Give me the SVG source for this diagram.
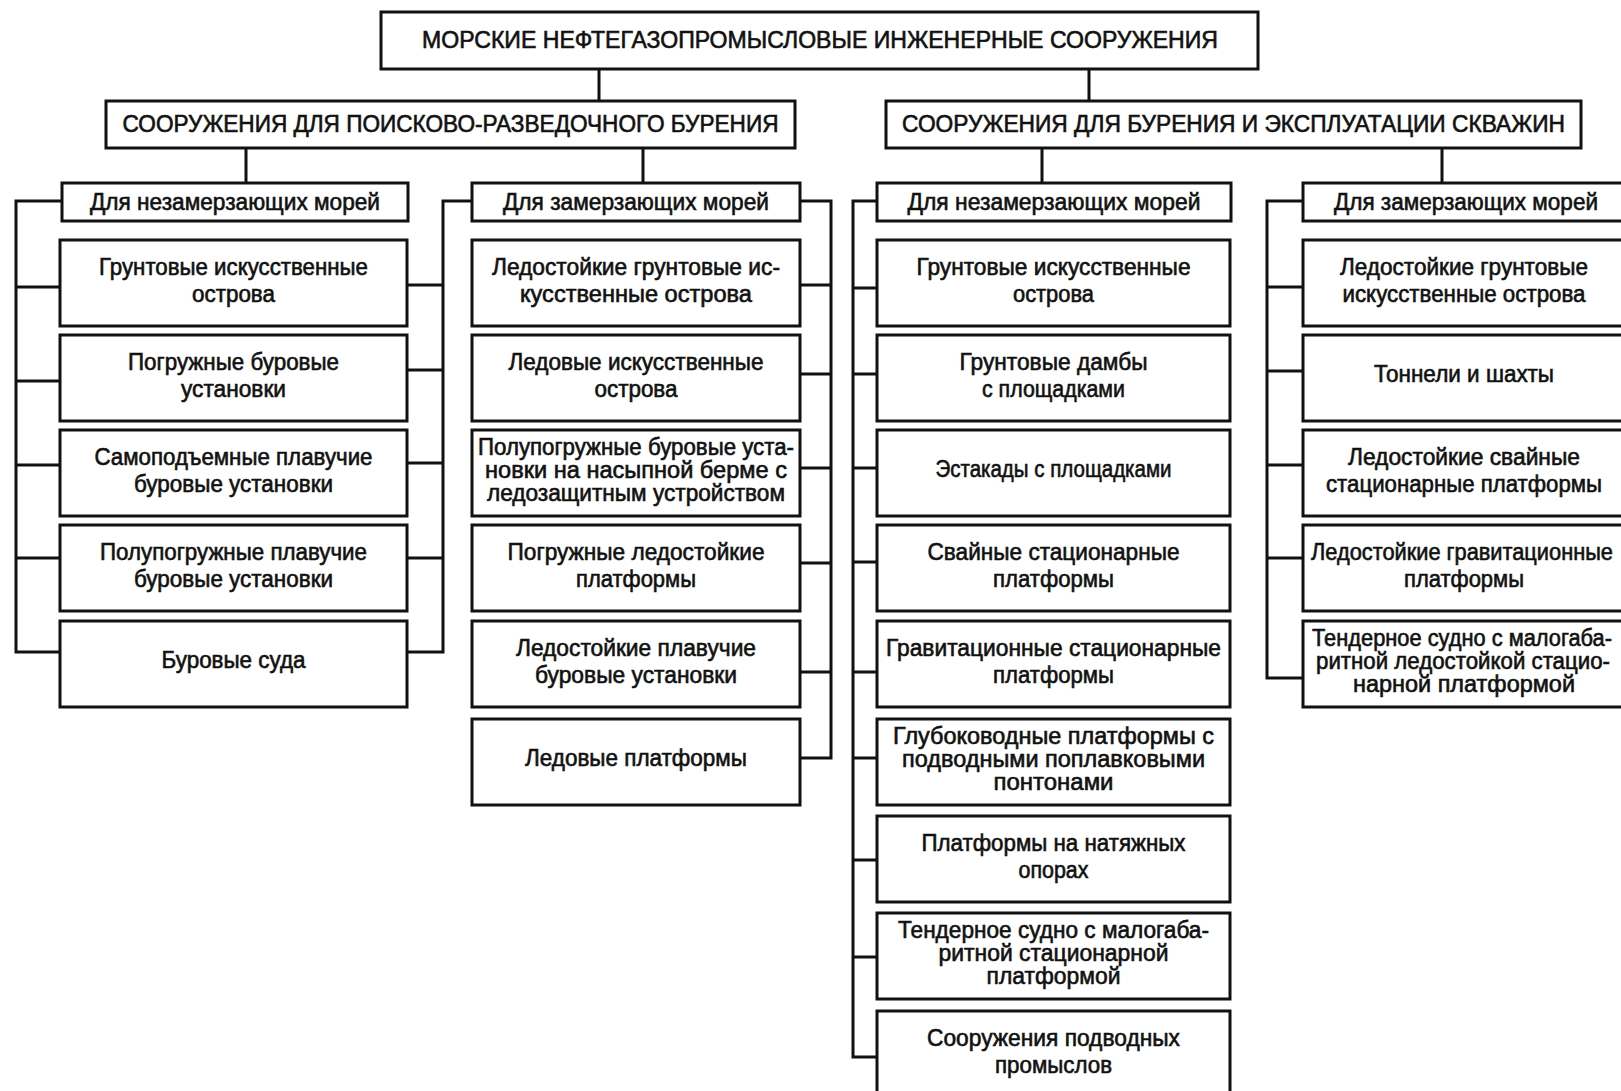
<svg xmlns="http://www.w3.org/2000/svg" width="1621" height="1091" viewBox="0 0 1621 1091">
<style>
.box{fill:#fff;stroke:#111;stroke-width:3}
.t{font-family:"Liberation Sans Narrow","Liberation Sans",Arial,sans-serif;font-size:23px;fill:#111;stroke:#111;stroke-width:0.6;text-anchor:middle}
.conn path{fill:none;stroke:#111;stroke-width:3}
</style>
<rect width="1621" height="1091" fill="#fff"/>
<g class="conn">
<path d="M599 69V101M1089 69V101"/>
<path d="M246 148V183M643 148V183M1042 148V183M1442 148V183"/>
<path d="M62 201H16V652H60M16 287H60M16 381H60M16 465H60M16 558H60"/>
<path d="M472 201H443V652H407M443 285H407M443 370H407M443 463H407M443 558H407"/>
<path d="M800 201H831V758H800M831 285H800M831 374H800M831 468H800M831 563H800M831 672H800"/>
<path d="M877 201H853V1057H877M853 288H877M853 374H877M853 468H877M853 562H877M853 672H877M853 758H877M853 860H877M853 957H877"/>
<path d="M1303 201H1267V678H1303M1267 287H1303M1267 371H1303M1267 465H1303M1267 558H1303"/>
</g>
<g id="root"><rect class="box" x="381" y="12" width="877" height="57"/><text class="t" x="820" y="48" textLength="796" lengthAdjust="spacingAndGlyphs">МОРСКИЕ НЕФТЕГАЗОПРОМЫСЛОВЫЕ ИНЖЕНЕРНЫЕ СООРУЖЕНИЯ</text></g>
<g id="l2-left"><rect class="box" x="106" y="101" width="689" height="47"/><text class="t" x="450.5" y="132" textLength="656" lengthAdjust="spacingAndGlyphs">СООРУЖЕНИЯ ДЛЯ ПОИСКОВО-РАЗВЕДОЧНОГО БУРЕНИЯ</text></g>
<g id="l2-right"><rect class="box" x="886" y="101" width="695" height="47"/><text class="t" x="1233.5" y="132" textLength="663" lengthAdjust="spacingAndGlyphs">СООРУЖЕНИЯ ДЛЯ БУРЕНИЯ И ЭКСПЛУАТАЦИИ СКВАЖИН</text></g>
<g id="h-la"><rect class="box" x="62" y="183" width="346" height="38"/><text class="t" x="235" y="210" textLength="290" lengthAdjust="spacingAndGlyphs">Для незамерзающих морей</text></g>
<g id="h-lb"><rect class="box" x="472" y="183" width="328" height="38"/><text class="t" x="636" y="210" textLength="266" lengthAdjust="spacingAndGlyphs">Для замерзающих морей</text></g>
<g id="h-ra"><rect class="box" x="877" y="183" width="354" height="38"/><text class="t" x="1054" y="210" textLength="293" lengthAdjust="spacingAndGlyphs">Для незамерзающих морей</text></g>
<g id="h-rb"><rect class="box" x="1303" y="183" width="340" height="38"/><text class="t" x="1466" y="210" textLength="264" lengthAdjust="spacingAndGlyphs">Для замерзающих морей</text></g>

<g id="la1"><rect class="box" x="60" y="240" width="347" height="86"/><text class="t" x="233.5" y="275" textLength="269" lengthAdjust="spacingAndGlyphs">Грунтовые искусственные</text><text class="t" x="233.5" y="302" textLength="83" lengthAdjust="spacingAndGlyphs">острова</text></g>
<g id="la2"><rect class="box" x="60" y="335" width="347" height="86"/><text class="t" x="233.5" y="370" textLength="211" lengthAdjust="spacingAndGlyphs">Погружные буровые</text><text class="t" x="233.5" y="397" textLength="105" lengthAdjust="spacingAndGlyphs">установки</text></g>
<g id="la3"><rect class="box" x="60" y="430" width="347" height="86"/><text class="t" x="233.5" y="465" textLength="278" lengthAdjust="spacingAndGlyphs">Самоподъемные плавучие</text><text class="t" x="233.5" y="492" textLength="199" lengthAdjust="spacingAndGlyphs">буровые установки</text></g>
<g id="la4"><rect class="box" x="60" y="525" width="347" height="86"/><text class="t" x="233.5" y="560" textLength="267" lengthAdjust="spacingAndGlyphs">Полупогружные плавучие</text><text class="t" x="233.5" y="587" textLength="199" lengthAdjust="spacingAndGlyphs">буровые установки</text></g>
<g id="la5"><rect class="box" x="60" y="621" width="347" height="86"/><text class="t" x="233.5" y="668" textLength="144" lengthAdjust="spacingAndGlyphs">Буровые суда</text></g>

<g id="lb1"><rect class="box" x="472" y="240" width="328" height="86"/><text class="t" x="636" y="275" textLength="288" lengthAdjust="spacingAndGlyphs">Ледостойкие грунтовые ис-</text><text class="t" x="636" y="302" textLength="232" lengthAdjust="spacingAndGlyphs">кусственные острова</text></g>
<g id="lb2"><rect class="box" x="472" y="335" width="328" height="86"/><text class="t" x="636" y="370" textLength="255" lengthAdjust="spacingAndGlyphs">Ледовые искусственные</text><text class="t" x="636" y="397" textLength="83" lengthAdjust="spacingAndGlyphs">острова</text></g>
<g id="lb3"><rect class="box" x="472" y="430" width="328" height="86"/><text class="t" x="636" y="455" textLength="316" lengthAdjust="spacingAndGlyphs">Полупогружные буровые уста-</text><text class="t" x="636" y="478" textLength="302" lengthAdjust="spacingAndGlyphs">новки на насыпной берме с</text><text class="t" x="636" y="501" textLength="298" lengthAdjust="spacingAndGlyphs">ледозащитным устройством</text></g>
<g id="lb4"><rect class="box" x="472" y="525" width="328" height="86"/><text class="t" x="636" y="560" textLength="257" lengthAdjust="spacingAndGlyphs">Погружные ледостойкие</text><text class="t" x="636" y="587" textLength="120" lengthAdjust="spacingAndGlyphs">платформы</text></g>
<g id="lb5"><rect class="box" x="472" y="621" width="328" height="86"/><text class="t" x="636" y="656" textLength="240" lengthAdjust="spacingAndGlyphs">Ледостойкие плавучие</text><text class="t" x="636" y="683" textLength="202" lengthAdjust="spacingAndGlyphs">буровые установки</text></g>
<g id="lb6"><rect class="box" x="472" y="719" width="328" height="86"/><text class="t" x="636" y="766" textLength="222" lengthAdjust="spacingAndGlyphs">Ледовые платформы</text></g>

<g id="ra1"><rect class="box" x="877" y="240" width="353" height="86"/><text class="t" x="1053.5" y="275" textLength="274" lengthAdjust="spacingAndGlyphs">Грунтовые искусственные</text><text class="t" x="1053.5" y="302" textLength="81" lengthAdjust="spacingAndGlyphs">острова</text></g>
<g id="ra2"><rect class="box" x="877" y="335" width="353" height="86"/><text class="t" x="1053.5" y="370" textLength="188" lengthAdjust="spacingAndGlyphs">Грунтовые дамбы</text><text class="t" x="1053.5" y="397" textLength="143" lengthAdjust="spacingAndGlyphs">с площадками</text></g>
<g id="ra3"><rect class="box" x="877" y="430" width="353" height="86"/><text class="t" x="1053.5" y="477" textLength="236" lengthAdjust="spacingAndGlyphs">Эстакады с площадками</text></g>
<g id="ra4"><rect class="box" x="877" y="525" width="353" height="86"/><text class="t" x="1053.5" y="560" textLength="252" lengthAdjust="spacingAndGlyphs">Свайные стационарные</text><text class="t" x="1053.5" y="587" textLength="121" lengthAdjust="spacingAndGlyphs">платформы</text></g>
<g id="ra5"><rect class="box" x="877" y="621" width="353" height="86"/><text class="t" x="1053.5" y="656" textLength="335" lengthAdjust="spacingAndGlyphs">Гравитационные стационарные</text><text class="t" x="1053.5" y="683" textLength="121" lengthAdjust="spacingAndGlyphs">платформы</text></g>
<g id="ra6"><rect class="box" x="877" y="719" width="353" height="86"/><text class="t" x="1053.5" y="744" textLength="321" lengthAdjust="spacingAndGlyphs">Глубоководные платформы с</text><text class="t" x="1053.5" y="767" textLength="303" lengthAdjust="spacingAndGlyphs">подводными поплавковыми</text><text class="t" x="1053.5" y="790" textLength="120" lengthAdjust="spacingAndGlyphs">понтонами</text></g>
<g id="ra7"><rect class="box" x="877" y="816" width="353" height="86"/><text class="t" x="1053.5" y="851" textLength="264" lengthAdjust="spacingAndGlyphs">Платформы на натяжных</text><text class="t" x="1053.5" y="878" textLength="70" lengthAdjust="spacingAndGlyphs">опорах</text></g>
<g id="ra8"><rect class="box" x="877" y="913" width="353" height="86"/><text class="t" x="1053.5" y="938" textLength="311" lengthAdjust="spacingAndGlyphs">Тендерное судно с малогаба-</text><text class="t" x="1053.5" y="961" textLength="230" lengthAdjust="spacingAndGlyphs">ритной стационарной</text><text class="t" x="1053.5" y="984" textLength="134" lengthAdjust="spacingAndGlyphs">платформой</text></g>
<g id="ra9"><rect class="box" x="877" y="1011" width="353" height="86"/><text class="t" x="1053.5" y="1046" textLength="253" lengthAdjust="spacingAndGlyphs">Сооружения подводных</text><text class="t" x="1053.5" y="1073" textLength="117" lengthAdjust="spacingAndGlyphs">промыслов</text></g>

<g id="rb1"><rect class="box" x="1303" y="240" width="340" height="86"/><text class="t" x="1464" y="275" textLength="248" lengthAdjust="spacingAndGlyphs">Ледостойкие грунтовые</text><text class="t" x="1464" y="302" textLength="243" lengthAdjust="spacingAndGlyphs">искусственные острова</text></g>
<g id="rb2"><rect class="box" x="1303" y="335" width="340" height="86"/><text class="t" x="1464" y="382" textLength="180" lengthAdjust="spacingAndGlyphs">Тоннели и шахты</text></g>
<g id="rb3"><rect class="box" x="1303" y="430" width="340" height="86"/><text class="t" x="1464" y="465" textLength="232" lengthAdjust="spacingAndGlyphs">Ледостойкие свайные</text><text class="t" x="1464" y="492" textLength="276" lengthAdjust="spacingAndGlyphs">стационарные платформы</text></g>
<g id="rb4"><rect class="box" x="1303" y="525" width="340" height="86"/><text class="t" x="1462" y="560" textLength="302" lengthAdjust="spacingAndGlyphs">Ледостойкие гравитационные</text><text class="t" x="1464" y="587" textLength="120" lengthAdjust="spacingAndGlyphs">платформы</text></g>
<g id="rb5"><rect class="box" x="1303" y="621" width="340" height="86"/><text class="t" x="1462" y="646" textLength="300" lengthAdjust="spacingAndGlyphs">Тендерное судно с малогаба-</text><text class="t" x="1463" y="669" textLength="294" lengthAdjust="spacingAndGlyphs">ритной ледостойкой стацио-</text><text class="t" x="1464" y="692" textLength="222" lengthAdjust="spacingAndGlyphs">нарной платформой</text></g>
</svg>
